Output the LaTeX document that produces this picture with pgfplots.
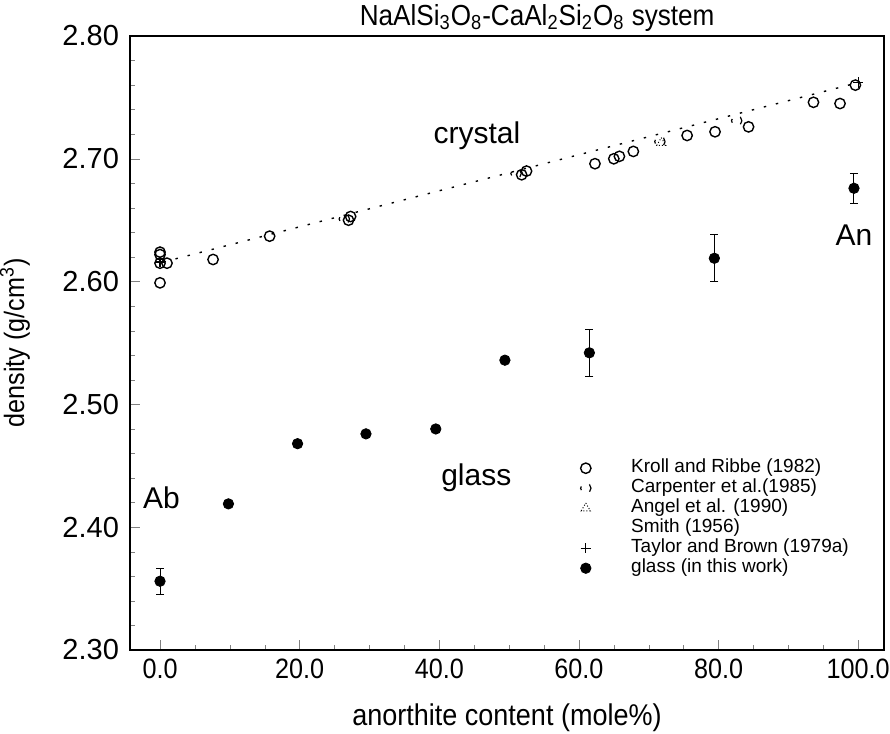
\documentclass[border=0pt]{standalone}
\usepackage{fontspec}
\setmainfont{Liberation Sans}
\newfontfamily\cond[FakeStretch=0.9]{Liberation Sans}
\usepackage{pgfplots}
\pgfplotsset{compat=1.18}
\begin{document}
\begin{tikzpicture}
\begin{axis}[
  name=ax,
  scale only axis, width=377pt, height=307pt,
  xmin=-4.3, xmax=103.7, ymin=2.30, ymax=2.80,
  xtick={0,20,40,60,80,100}, minor x tick num=3,
  ytick={2.30,2.40,2.50,2.60,2.70,2.80}, minor y tick num=4,
  tick align=inside, xtick pos=bottom, ytick pos=left,
  major tick length=5pt, minor tick length=2.5pt,
  axis line style={line width=0.6pt},
  /pgf/number format/assume math mode=true,
  xticklabel style={/pgf/number format/.cd, fixed, fixed zerofill, precision=1, /tikz/.cd, font=\cond\fontsize{14}{16}\selectfont, yshift=-1pt},
  yticklabel style={/pgf/number format/.cd, fixed, fixed zerofill, precision=2, /tikz/.cd, font=\fontsize{14.5}{16}\selectfont, xshift=-2pt},
  xlabel={anorthite content (mole\%)},
  ylabel={density (g/cm\textsuperscript{3})},
  xlabel style={font=\cond\fontsize{15}{17}\selectfont, at={(axis description cs:0.5,-0.11)}, anchor=center},
  ylabel style={font=\cond\fontsize{14}{16}\selectfont, at={(axis description cs:-0.1525,0.5)}, anchor=center},
  legend cell align=left,
  legend image code/.code={\draw[#1] plot coordinates {(0pt,0pt)}; \path (-3pt,0pt) (22.5pt,0pt);},
  legend style={at={(rel axis cs:0.5955,0.313)}, anchor=north west, draw=none, fill=none,
    font=\fontsize{9.5}{11}\selectfont, row sep=0pt, inner sep=0pt, column sep=0pt,
    nodes={inner sep=0pt, text height=7pt, text depth=3pt}},
  clip=false,
]
% dotted trend line through crystal data
\addplot[black, line width=0.7pt, dash pattern=on 1.2pt off 5pt, forget plot] coordinates {(0.5,2.616) (100,2.762)};

% Kroll and Ribbe (1982)
\addplot[only marks, mark=o, mark size=2.6pt, mark options={line width=0.7pt}] coordinates {
 (0,2.624) (0,2.622) (0,2.615) (1.0,2.615) (0,2.599) (7.6,2.618) (15.7,2.637)
 (27.0,2.650) (27.3,2.653) (51.8,2.687) (52.5,2.690) (62.3,2.696) (65.0,2.700)
 (65.8,2.702) (67.8,2.706) (75.5,2.719) (79.5,2.722) (84.3,2.726) (93.6,2.746)
 (97.4,2.745) (99.6,2.760)};
\addlegendentry{Kroll and Ribbe (1982)}

% Carpenter et al. (1985)
\addplot[only marks, mark=o, mark size=2.6pt, mark options={line width=0.6pt, dash pattern=on 2pt off 5pt}] coordinates {
 (26.4,2.651) (51.0,2.688) (82.6,2.731) (71.6,2.714)};
\addlegendentry{Carpenter et al.(1985)}

% Angel et al. (1990)
\addplot[only marks, mark=triangle, mark size=2.6pt, mark options={line width=0.5pt, densely dotted}] coordinates {
 (71.8,2.713)};
\addlegendentry{Angel et al. (1990)}

\addlegendimage{empty legend}
\addlegendentry{Smith (1956)}

% Taylor and Brown (1979a)
\addplot[only marks, mark=+, mark size=2.6pt, mark options={line width=0.6pt}] coordinates {
 (0,2.616) (100,2.762)};
\addlegendentry{Taylor and Brown (1979a)}

% glass (this work)
\addplot[only marks, mark=*, mark size=2.6pt,
  error bars/.cd, y dir=both, y explicit,
  error bar style={line width=0.5pt},
  error mark options={rotate=90, mark size=2pt, line width=0.5pt}] coordinates {
 (0,2.356) +- (0,0.0105)
 (9.8,2.419) +- (0,0.002)
 (19.7,2.468) +- (0,0.002)
 (29.5,2.476) +- (0,0.003)
 (39.5,2.480) +- (0,0.003)
 (49.4,2.536) +- (0,0.002)
 (61.5,2.542) +- (0,0.019)
 (79.4,2.619) +- (0,0.019)
 (99.4,2.676) +- (0,0.012)};
\addlegendentry{glass (in this work)}

\node[font=\fontsize{15}{17}\selectfont] at (axis cs:45.4,2.719) {crystal};
\node[font=\fontsize{15}{17}\selectfont] at (axis cs:45.3,2.440) {glass};
\node[font=\fontsize{15}{17}\selectfont] at (axis cs:0.2,2.424) {Ab};
\node[font=\fontsize{15}{17}\selectfont] at (axis cs:99.4,2.638) {An};
\node[font=\cond\fontsize{14.5}{16}\selectfont] at ([yshift=9pt]rel axis cs:0.54,1) {NaAlSi\textsubscript{3}O\textsubscript{8}-CaAl\textsubscript{2}Si\textsubscript{2}O\textsubscript{8} system};
\end{axis}
\pgfresetboundingbox
\path[use as bounding box] ([shift={(-65pt,-42pt)}]ax.south west) rectangle ([shift={(3pt,18pt)}]ax.north east);
\end{tikzpicture}
\end{document}
